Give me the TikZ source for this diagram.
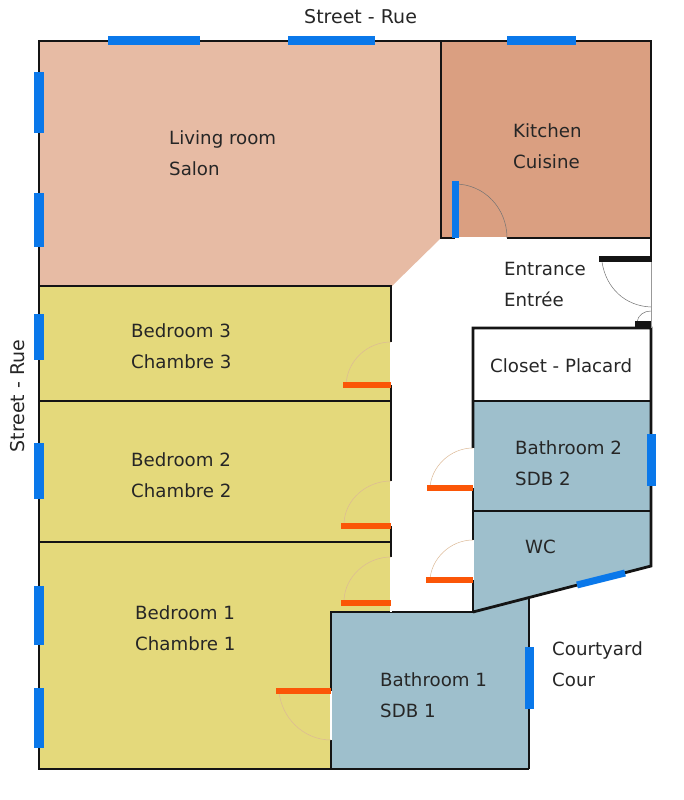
\documentclass[tikz,border=0pt]{standalone}
\usepackage{fontspec}
\setmainfont{DejaVu Sans}
\definecolor{livingcol}{HTML}{E7BBA4}
\definecolor{kitchencol}{HTML}{DA9F81}
\definecolor{bedcol}{HTML}{E4D97B}
\definecolor{bathcol}{HTML}{9EBFCC}
\definecolor{windowcol}{HTML}{0A78EA}
\definecolor{doorcol}{HTML}{FB5607}
\definecolor{wallcol}{HTML}{141414}
\tikzset{
	roomlabel/.style={anchor=west, inner sep=0pt, align=left, text=black!85, font=\fontsize{18.2}{31}\selectfont},
	streetlabel/.style={inner sep=0pt, text=black!85, font=\fontsize{19}{31}\selectfont},
	wall/.style={draw=wallcol, line width=2.8pt},
	thinwall/.style={draw=wallcol, line width=2pt},
	windowbar/.style={draw=windowcol, line width=#1},
	doorbar/.style={draw=doorcol, line width=6.6pt},
	swing/.style={draw=#1, line width=0.5pt},
	doorgap/.style={draw=white, line width=1.4pt},
}

\begin{document}
\begin{tikzpicture}[x=1pt,y=-1pt]
	\useasboundingbox (0,0) rectangle (684,800);
	% rooms
	\fill[livingcol] (39,41) -- (441,41) -- (441,238) -- (392,286) -- (39,286) -- cycle;
	\fill[kitchencol] (441,41) rectangle (651,238);
	\fill[bedcol] (39,286) rectangle (391,401);
	\fill[bedcol] (39,401) rectangle (391,542);
	\fill[bedcol] (39,542) -- (391,542) -- (391,612) -- (331,612) -- (331,769) -- (39,769) -- cycle;
	\fill[bathcol] (473,401) rectangle (651,511);
	\fill[bathcol] (473,511) -- (651,511) -- (651,566) -- (473,611) -- cycle;
	\fill[bathcol] (331,612) -- (473,612) -- (529,597) -- (529,769) -- (331,769) -- cycle;
	% walls
	\draw[wall] (651,262) -- (651,41) -- (39,41) -- (39,769) -- (529,769);
	\draw[thinwall] (529,769) -- (529,597);
	\draw[wall] (441,41) -- (441,238) -- (455,238);
	\draw[wall] (507,238) -- (651,238);
	\draw[wall] (39,286) -- (391,286) -- (391,342);
	\draw[thinwall] (39,401) -- (391,401);
	\draw[wall] (391,385) -- (391,481);
	\draw[wall] (39,542) -- (391,542);
	\draw[wall] (391,526) -- (391,557);
	\draw[wall] (331,740) -- (331,769);
	\draw[thinwall] (331,691) -- (331,612) -- (473,612);
	\draw[wall] (473,612) -- (651,566) -- (651,328) -- (473,328) -- (473,448);
	\draw[thinwall] (473,401) -- (651,401);
	\draw[thinwall] (473,511) -- (651,511);
	\draw[wall] (473,488) -- (473,540);
	\draw[wall] (473,580) -- (473,612);
	% door openings
	\foreach \xa/\ya/\xb/\yb in {455/238/507/238, 391/342/391/385, 391/481/391/526, 391/557/391/612, 331/691/331/740, 473/448/473/488, 473/540/473/580}
		\draw[doorgap] (\xa,\ya) -- (\xb,\yb);
	\draw[swing=black!40] (651,262) -- (651,328);
	\draw[doorgap] (648.5,262) -- (648.5,322);
	% door swings
	\draw[swing=black!55] (455,184) .. controls (484,184) and (507,208) .. (507,238);
	\draw[swing=black!55] (602,262) .. controls (606,288) and (625,306) .. (651,307);
	\draw[swing=black!55] (637,322) .. controls (638,315) and (644,311) .. (651,311);
	\draw[swing=brown!55] (346,385) .. controls (347,361) and (367,342) .. (391,342);
	\draw[swing=brown!55] (344,523) .. controls (345,500) and (366,481) .. (391,481);
	\draw[swing=brown!55] (344,600) .. controls (345,577) and (366,557) .. (391,557);
	\draw[swing=brown!55] (279,691) .. controls (281,717) and (303,740) .. (331,740);
	\draw[swing=brown!55] (430,488) .. controls (431,467) and (450,448) .. (473,448);
	\draw[swing=brown!55] (430,580) .. controls (431,559) and (450,540) .. (473,540);
	% door leaves
	\foreach \xa/\ya/\xb in {343/385/391, 341/526/391, 341/603/391, 276/691/331, 427/488/473, 426/580/473}
		\draw[doorbar] (\xa,\ya) -- (\xb,\ya);
	\draw[wallcol, line width=6.5pt] (599,259) -- (651,259);
	\draw[wallcol, line width=6.5pt] (635,324) -- (651,324);
	% windows
	\foreach \xa/\xb in {108/200, 288/375, 507/576}
		\draw[windowbar=9pt] (\xa,41) -- (\xb,41);
	\foreach \ya/\yb in {72/133, 193/247, 314/360, 443/499, 586/645, 688/748}
		\draw[windowbar=10pt] (39,\ya) -- (39,\yb);
	\draw[windowbar=9pt] (651,434) -- (651,486);
	\draw[windowbar=9pt] (529,647) -- (529,709);
	\draw[windowbar=7pt] (455,181) -- (455,238);
	\draw[windowbar=7pt] (577,585) -- (625,573);
	% labels
	\node[streetlabel, anchor=west] (street_top) at (304,17) {Street - Rue};
	\node[streetlabel, rotate=90] (street_left) at (18,396) {Street - Rue};
	\node[roomlabel] (living) at (169,153) {Living room\\Salon};
	\node[roomlabel] (kitchen) at (513,146) {Kitchen\\Cuisine};
	\node[roomlabel] (entrance) at (504,284) {Entrance\\Entrée};
	\node[roomlabel] (closet) at (490,366) {Closet - Placard};
	\node[roomlabel] (bedroom3) at (131,346) {Bedroom 3\\Chambre 3};
	\node[roomlabel] (bedroom2) at (131,475) {Bedroom 2\\Chambre 2};
	\node[roomlabel] (bedroom1) at (135,628) {Bedroom 1\\Chambre 1};
	\node[roomlabel] (bathroom2) at (515,463) {Bathroom 2\\SDB 2};
	\node[roomlabel] (wc) at (525,547) {WC};
	\node[roomlabel] (bathroom1) at (380,695) {Bathroom 1\\SDB 1};
	\node[roomlabel] (courtyard) at (552,664) {Courtyard\\Cour};
\end{tikzpicture}
\end{document}
